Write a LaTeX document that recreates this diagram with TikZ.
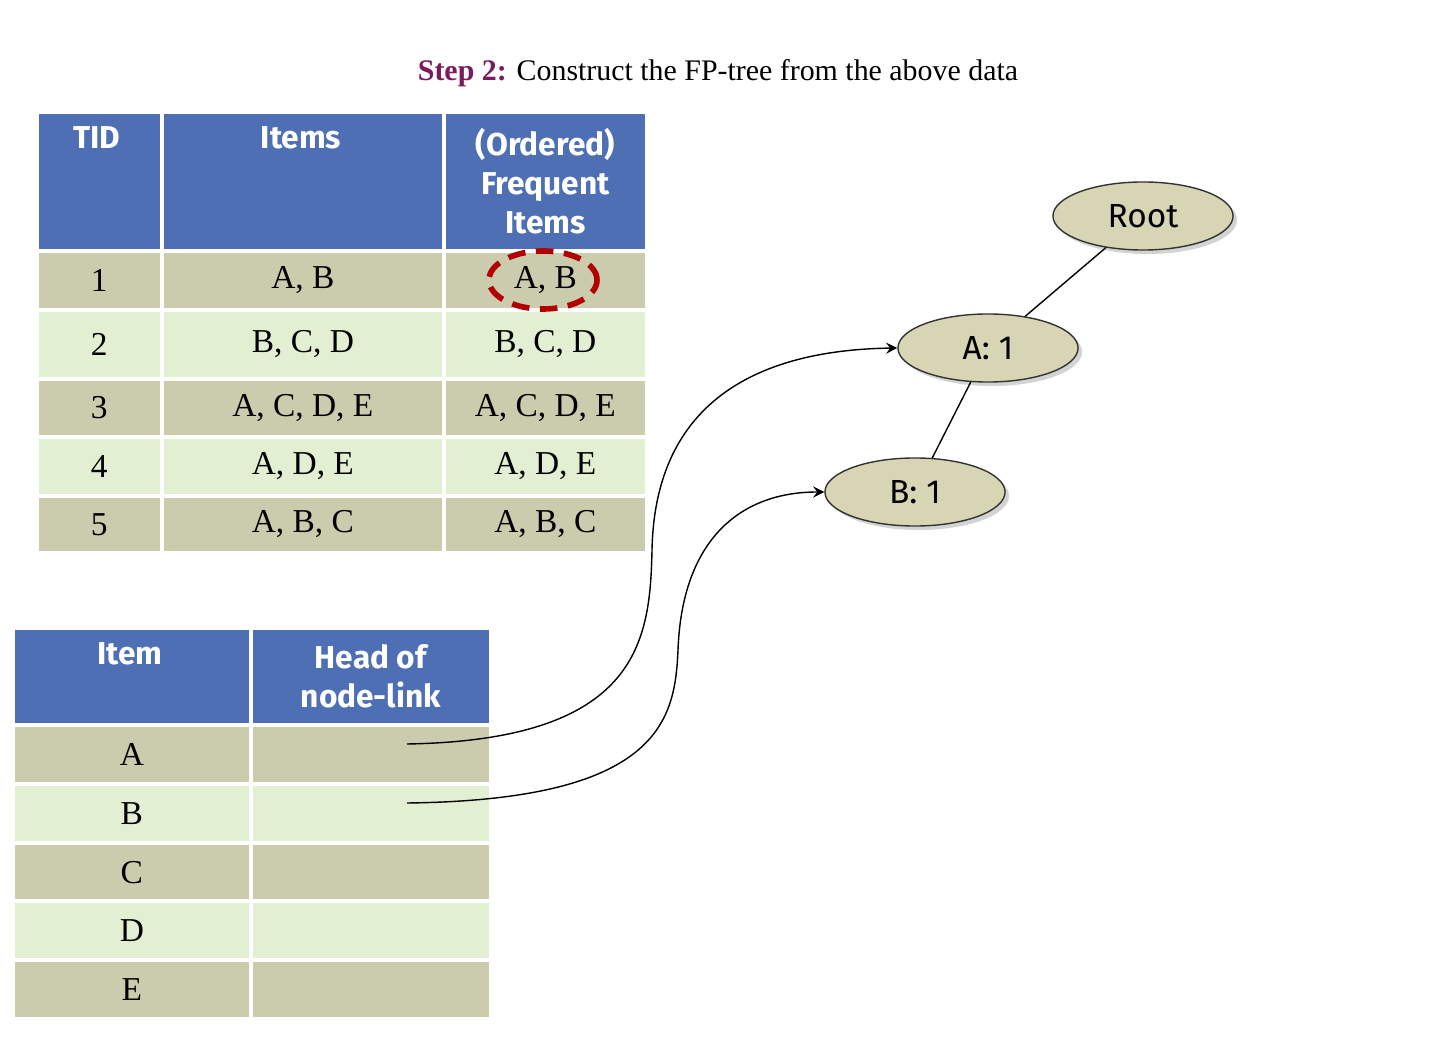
\documentclass[tikz,border=0pt]{standalone}
\usepackage{fontspec}
\setmainfont{Liberation Serif}
\newfontfamily\headfont{Fira Sans}
\usetikzlibrary{shapes, arrows, positioning, shadows}
\definecolor{headblue}{HTML}{4E6FB3}
\definecolor{rowdark}{HTML}{CBCBAE}
\definecolor{rowlight}{HTML}{E2EFD3}
\definecolor{stepred}{HTML}{7A1B5C}
\definecolor{nodefill}{HTML}{D8D5B5}
\begin{document}
\begin{tikzpicture}[x=0.01cm, y=-0.01cm,
        head/.style={rectangle, draw=white, line width=1pt, fill=headblue, inner sep=0pt, align=center, text=white, font=\headfont\fontsize{9}{11}\selectfont\bfseries},
        dark/.style={rectangle, draw=white, line width=1pt, fill=rowdark, inner sep=0pt, font=\fontsize{9.5}{11}\selectfont},
        light/.style={dark, fill=rowlight},
        tnode/.style={ellipse, draw=black!80, fill=nodefill, minimum width=1.8cm, minimum height=0.68cm, font=\headfont\fontsize{9.5}{11}\selectfont, drop shadow={opacity=0.35, shadow xshift=0.04cm, shadow yshift=-0.04cm}},
        link/.style={->, >=stealth, thin}
    ]
    \useasboundingbox (0,0) rectangle (1436,1040);
    % Title
    \node (title) at (718,73) {\fontsize{8.5}{10}\selectfont\textbf{\color{stepred}Step 2:} Construct the FP-tree from the above data};
    % Transaction table
    \node[head, minimum width=1.25cm, minimum height=1.39cm, anchor=north west] (tid) at (35,110) {};
    \node[head, minimum width=2.82cm, minimum height=1.39cm, anchor=north west] (items) at (160,110) {};
    \node[head, minimum width=2.03cm, minimum height=1.39cm, anchor=north west] (freq) at (442,110) {(Ordered)\\Frequent\\Items};
    \node[head, draw=none, fill=none] (tidtext) at (97,138) {TID};
    \node[head, draw=none, fill=none] (itemstext) at (301,138) {Items};
    \foreach \y/\h/\s/\t/\a/\b [count=\i] in {249/0.59/dark/1/{A, B}/{A, B}, 308/0.69/light/2/{B, C, D}/{B, C, D}, 377/0.58/dark/3/{A, C, D, E}/{A, C, D, E}, 435/0.59/light/4/{A, D, E}/{A, D, E}, 494/0.57/dark/5/{A, B, C}/{A, B, C}} {
        \node[\s, minimum width=1.25cm, minimum height=\h cm, anchor=north west] (tid\i) at (35,\y) {\t};
        \node[\s, minimum width=2.82cm, minimum height=\h cm, anchor=north west] (items\i) at (160,\y) {\a};
        \node[\s, minimum width=2.03cm, minimum height=\h cm, anchor=north west] (freq\i) at (442,\y) {\b};
    }
    % Highlight
    \node[ellipse, draw=red!70!black, line width=1.6pt, dash pattern=on 5pt off 3pt, minimum width=1.08cm, minimum height=0.58cm] (mark) at (543,280) {};
    % Header table
    \node[head, minimum width=2.38cm, minimum height=0.97cm, anchor=north west] (item) at (11,626) {};
    \node[head, minimum width=2.40cm, minimum height=0.97cm, anchor=north west] (hlink) at (249,626) {Head of\\node-link};
    \node[head, draw=none, fill=none] (itemtext) at (130,654) {Item};
    \foreach \y/\s/\t [count=\i] in {723/dark/A, 782/light/B, 841/dark/C, 899/light/D, 958/dark/E} {
        \node[\s, minimum width=2.38cm, minimum height=0.59cm, anchor=north west] (item\i) at (11,\y) {\t};
        \node[\s, minimum width=2.40cm, minimum height=0.59cm, anchor=north west] (hlink\i) at (249,\y) {};
    }
    % FP-tree
    \node[tnode] (root) at (1143,216) {Root};
    \node[tnode] (a1) at (988,348) {A: 1};
    \node[tnode] (b1) at (915,492) {B: 1};
    \draw (root) -- (a1);
    \draw (a1) -- (b1);
    % Node-links
    \coordinate (linkA) at (407,744);
    \coordinate (linkB) at (407,803);
    \draw[link] (linkA) .. controls (640,740) and (650,640) .. (652,550) .. controls (655,400) and (760,350) .. (a1.west);
    \draw[link] (linkB) .. controls (660,800) and (675,720) .. (678,650) .. controls (682,540) and (740,492) .. (b1.west);
\end{tikzpicture}
\end{document}
